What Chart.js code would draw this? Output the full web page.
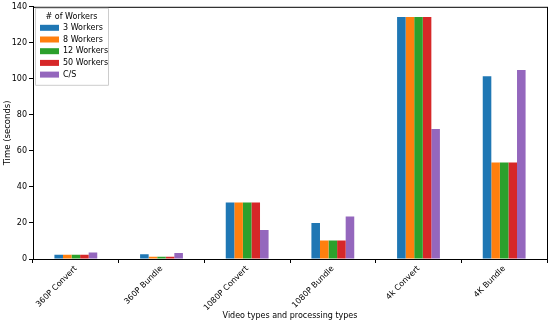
<!DOCTYPE html>
<html>
<head>
<meta charset="utf-8">
<script src="https://cdn.jsdelivr.net/npm/chart.js@4/dist/chart.umd.min.js"></script>
<style>
  html, body { margin: 0; padding: 0; background: #fff; }
  #wrap { width: 550px; height: 324px; }
</style>
</head>
<body>
<div id="wrap"><canvas id="grafico"></canvas></div>
<script>
const categorias = ["360P Convert", "360P Bundle", "1080P Convert", "1080P Bundle", "4k Convert", "4K Bundle"];
const workers3  = [2.3, 2.7, 31.4, 20.0, 134.3, 101.4];
const workers8  = [2.3, 1.3, 31.4, 10.3, 134.3, 53.6];
const workers12 = [2.3, 1.3, 31.4, 10.3, 134.3, 53.6];
const workers50 = [2.3, 1.3, 31.4, 10.3, 134.3, 53.6];
const clienteServidor = [3.6, 3.3, 16.1, 23.6, 72.2, 104.9];
const yTicks = [0, 20, 40, 60, 80, 100, 120, 140];

const fonte = "'DejaVu Sans', sans-serif";

// moldura completa (estilo matplotlib) + legenda dentro do gráfico
const molduraPlugin = {
  id: "moldura",
  afterDraw(chart) {
    const { ctx, chartArea: a } = chart;
    ctx.save();
    ctx.strokeStyle = "#000";
    ctx.lineWidth = 1;
    ctx.strokeRect(a.left + 0.5, a.top + 0.5, a.right - a.left, a.bottom - a.top);

    // legenda
    const x0 = a.left + 2, y0 = a.top + 1;
    const w = 73, h = 77;
    ctx.fillStyle = "rgba(255,255,255,0.8)";
    ctx.strokeStyle = "#ccc";
    ctx.beginPath();
    ctx.rect(x0 + 0.5, y0 + 0.5, w, h);
    ctx.fill();
    ctx.stroke();
    ctx.fillStyle = "#000";
    ctx.font = "8px " + fonte;
    ctx.textAlign = "center";
    ctx.textBaseline = "middle";
    ctx.fillText("# of Workers", x0 + w / 2, y0 + 9);
    ctx.textAlign = "left";
    chart.data.datasets.forEach((ds, i) => {
      const yy = y0 + 20 + i * 11.7;
      ctx.fillStyle = ds.backgroundColor;
      ctx.fillRect(x0 + 5, yy - 3, 19, 6);
      ctx.fillStyle = "#000";
      ctx.fillText(ds.label, x0 + 28, yy);
    });
    ctx.restore();
  }
};

new Chart(document.getElementById("grafico"), {
  type: "bar",
  data: {
    labels: categorias,
    datasets: [
      { label: "3 Workers", data: workers3, backgroundColor: "#1f77b4" },
      { label: "8 Workers", data: workers8, backgroundColor: "#ff7f0e" },
      { label: "12 Workers", data: workers12, backgroundColor: "#2ca02c" },
      { label: "50 Workers", data: workers50, backgroundColor: "#d62728" },
      { label: "C/S", data: clienteServidor, backgroundColor: "#9467bd" }
    ]
  },
  options: {
    responsive: true,
    maintainAspectRatio: false,
    animation: false,
    layout: { padding: { top: 0, right: 3, left: 0, bottom: 0 } },
    datasets: { bar: { barPercentage: 1, categoryPercentage: 0.5 } },
    plugins: { legend: { display: false }, tooltip: { enabled: false } },
    scales: {
      x: {
        afterFit(axis) { axis.height = 65; },
        grid: { drawOnChartArea: false, drawTicks: true, tickLength: 4, color: "#000" },
        border: { display: true, color: "#000" },
        ticks: { color: "#000", font: { family: fonte, size: 8 }, maxRotation: 45, minRotation: 45, padding: 1 },
        title: { display: true, text: "Video types and processing types", color: "#000", font: { family: fonte, size: 8 }, padding: { top: 2, bottom: 3 } }
      },
      y: {
        min: 0,
        max: 140,
        afterBuildTicks(axis) { axis.ticks = yTicks.map(v => ({ value: v })); },
        afterFit(axis) { axis.width = 33; },
        grid: { drawOnChartArea: false, drawTicks: true, tickLength: 4, color: "#000" },
        border: { display: true, color: "#000" },
        ticks: { color: "#000", font: { family: fonte, size: 8 }, padding: 2 },
        title: { display: true, text: "Time (seconds)", color: "#000", font: { family: fonte, size: 8.5 }, padding: { top: 3, bottom: 0 } }
      }
    }
  },
  plugins: [molduraPlugin]
});
</script>
</body>
</html>
